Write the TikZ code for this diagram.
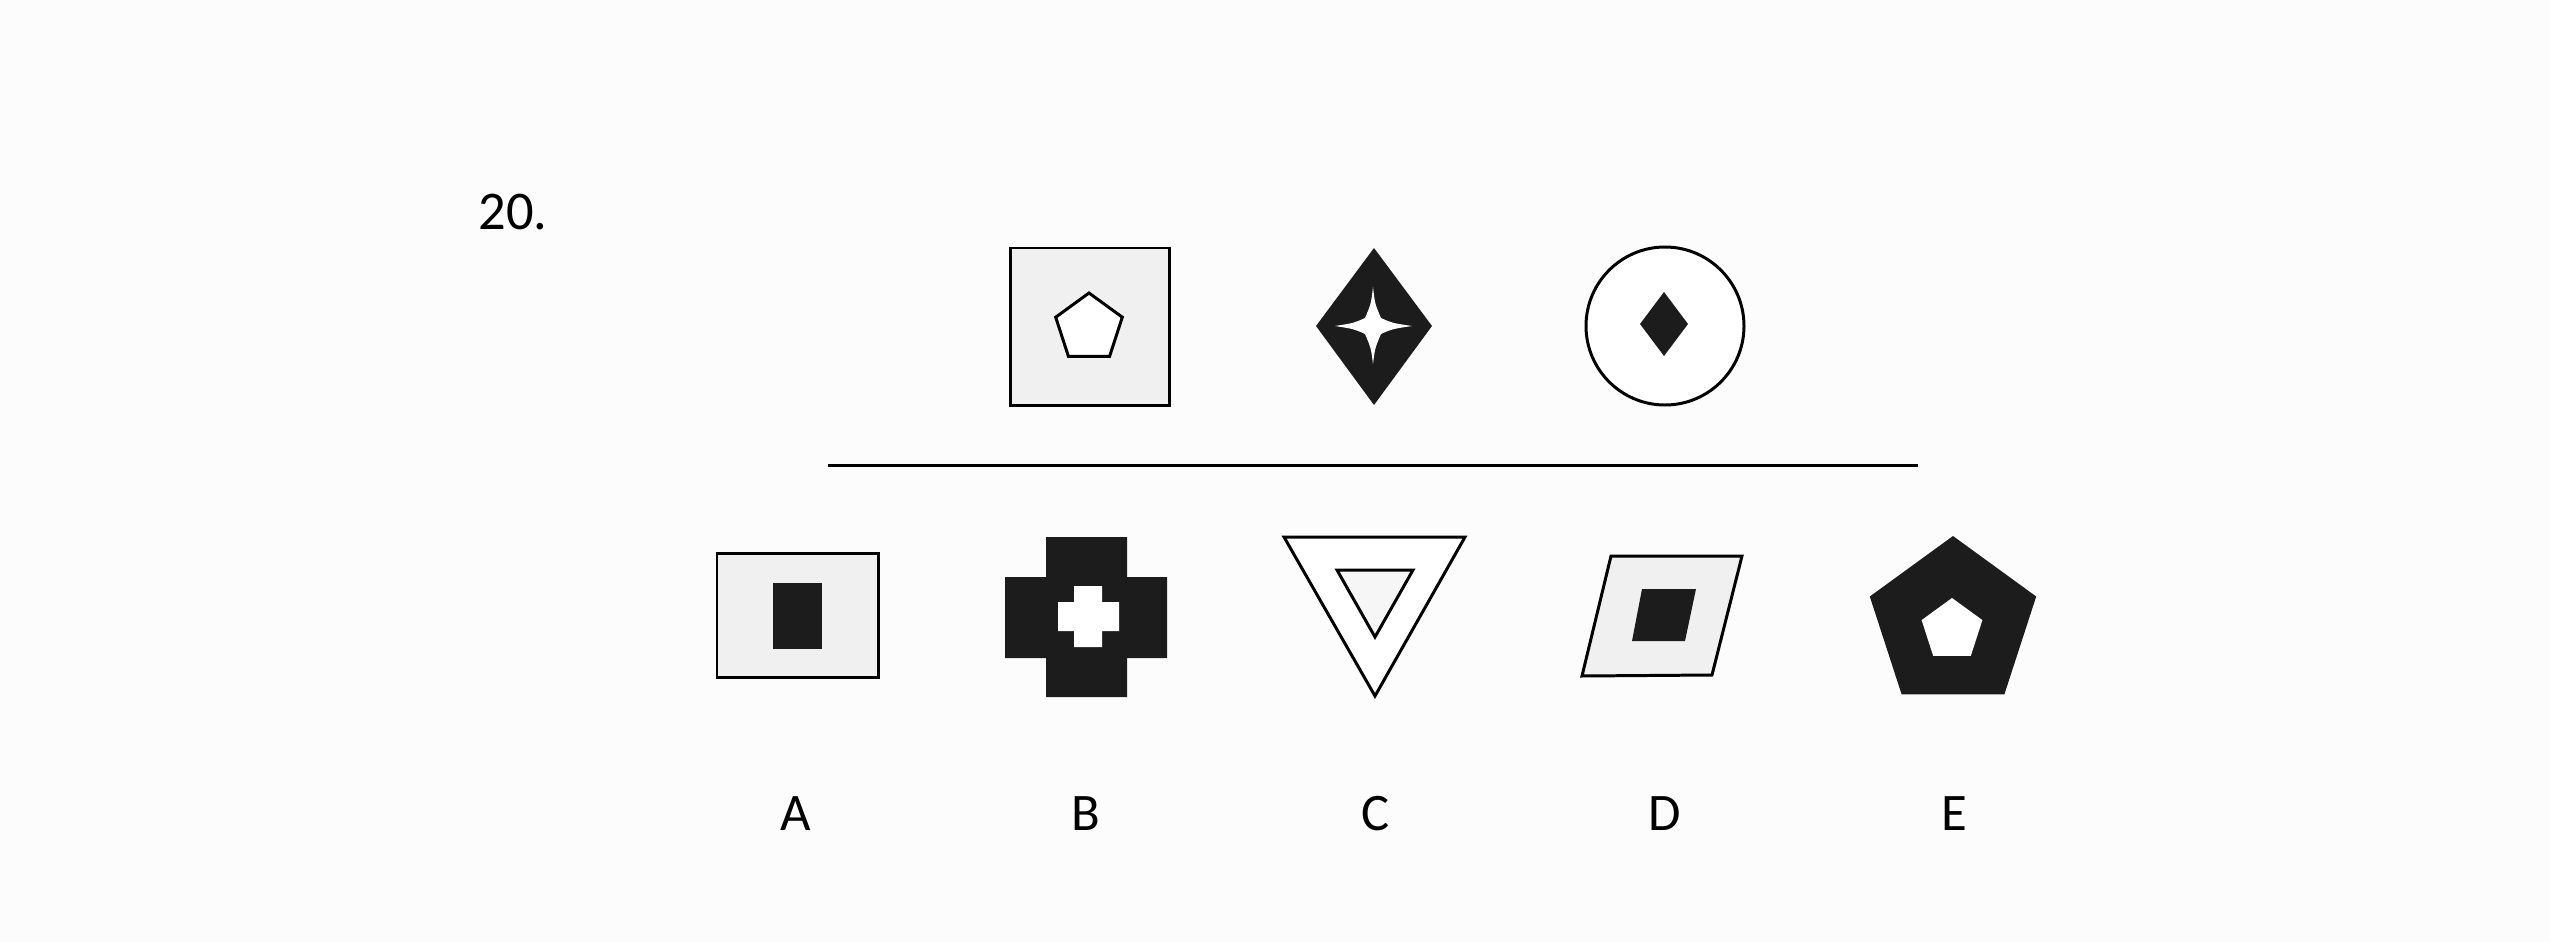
\documentclass[tikz,border=0pt]{standalone}
\usepackage{fontspec}
\setmainfont{Carlito}
\definecolor{bgc}{RGB}{252,252,252}
\definecolor{lightg}{RGB}{240,240,240}
\definecolor{darkg}{RGB}{28,28,28}
\begin{document}
\begin{tikzpicture}[x=0.01cm,y=-0.01cm,
  outl/.style={draw=black,line width=0.85pt,line join=miter},
  lightf/.style={fill=lightg},
  darkf/.style={fill=darkg},
  hole/.style={fill=white},
  lbl/.style={inner sep=0pt,anchor=base,font=\fontsize{15}{18}\selectfont}]
% background / page
\fill[bgc] (0,0) rectangle (2550,942);
\useasboundingbox (0,0) rectangle (2550,942);

% question number
\node[lbl,anchor=base west,font=\fontsize{15.5}{18}\selectfont] (num) at (478,229) {20.};

% ---------- top row ----------
% square with pentagon
\draw[outl,lightf] (1010,248) rectangle (1169,405);
\draw[outl,fill=white] (1089,293) -- (1122.3,317.2) -- (1109.6,356.3) -- (1068.4,356.3) -- (1055.7,317.2) -- cycle;

% diamond with star
\fill[darkf] (1374,248) -- (1432,326) -- (1374,405) -- (1316,326) -- cycle;
\fill[hole] (1373,287)
  .. controls (1375,304) .. (1381,318)
  .. controls (1392,323) .. (1412,326)
  .. controls (1392,329) .. (1381,334)
  .. controls (1375,348) .. (1373,364)
  .. controls (1371,348) .. (1365,334)
  .. controls (1354,329) .. (1335,326)
  .. controls (1354,323) .. (1365,318)
  .. controls (1371,304) .. (1373,287) -- cycle;

% circle with small diamond
\draw[outl,fill=white] (1665,326) circle [radius=79];
\fill[darkf] (1664,292) -- (1688,324) -- (1664,356) -- (1640,324) -- cycle;

% separator line
\coordinate (ls) at (828,465);
\coordinate (le) at (1918,465);
\draw[line width=0.85pt] (ls) -- (le);

% ---------- answer row ----------
% A
\draw[outl,lightf] (717,553) rectangle (878,677);
\fill[darkf] (773,583) rectangle (822,649);

% B
\fill[darkf] (1046,537) -- (1127,537) -- (1127,577) -- (1167,577) -- (1167,658)
  -- (1127,658) -- (1127,697) -- (1046,697) -- (1046,658) -- (1005,658)
  -- (1005,577) -- (1046,577) -- cycle;
\fill[hole] (1074,586) -- (1102,586) -- (1102,602) -- (1119,602) -- (1119,631)
  -- (1102,631) -- (1102,647) -- (1074,647) -- (1074,631) -- (1058,631)
  -- (1058,602) -- (1074,602) -- cycle;

% C
\draw[outl,fill=white] (1284,537) -- (1465,537) -- (1375,696) -- cycle;
\draw[outl,fill={rgb,255:red,246;green,246;blue,246}] (1337,570) -- (1413,570) -- (1375,637) -- cycle;

% D
\draw[outl,lightf] (1582,676) -- (1611,556) -- (1742,556) -- (1712,675) -- cycle;
\fill[darkf] (1642,589) -- (1696,589) -- (1685,641) -- (1632,641) -- cycle;

% E
\fill[darkf] (1953,536) -- (2036.2,596.5) -- (2004.4,694.3) -- (1901.6,694.3) -- (1869.8,596.5) -- cycle;
\fill[hole] (1952,598) -- (1982.4,620.1) -- (1970.8,655.9) -- (1933.2,655.9) -- (1921.6,620.1) -- cycle;

% labels
\node[lbl] (la) at (796,830) {A};
\node[lbl] (lb) at (1086,830) {B};
\node[lbl] (lc) at (1376,830) {C};
\node[lbl] (ld) at (1665,830) {D};
\node[lbl] (le2) at (1954,830) {E};
\end{tikzpicture}
\end{document}
